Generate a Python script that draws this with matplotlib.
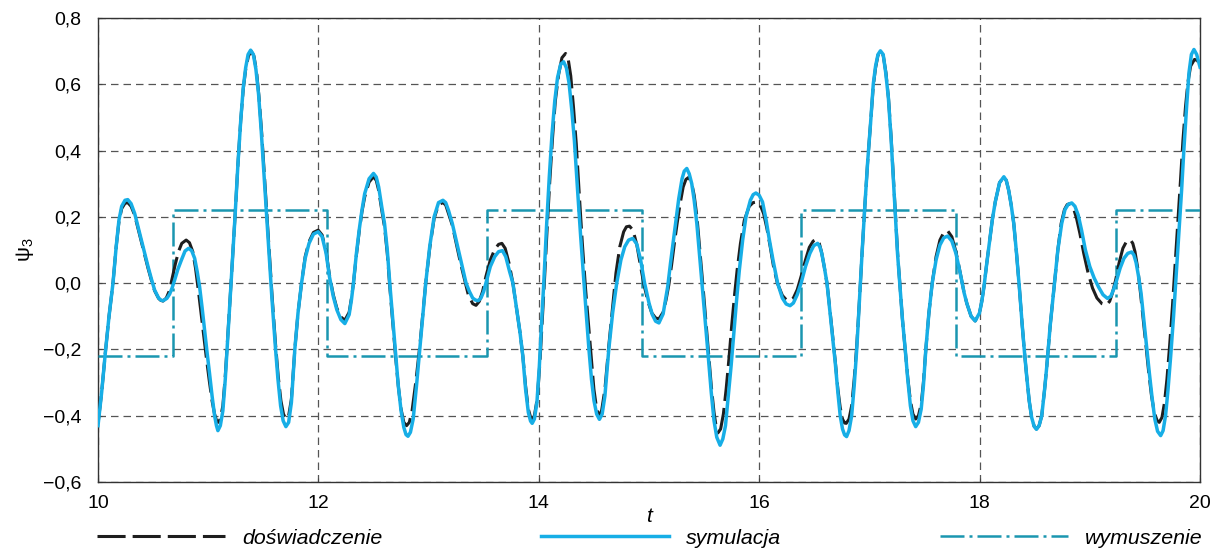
import numpy as np
import matplotlib
matplotlib.use("Agg")
import matplotlib.pyplot as plt
from matplotlib.ticker import FuncFormatter, MultipleLocator

plt.rcParams['font.family'] = ['Liberation Sans', 'DejaVu Sans']
plt.rcParams['mathtext.fontset'] = 'custom'
plt.rcParams['mathtext.rm'] = 'Liberation Sans'
plt.rcParams['mathtext.it'] = 'Liberation Sans:italic'
plt.rcParams['mathtext.default'] = 'regular'

# symulacja (blue), (t, psi3)
sim = [
    (10.00, -0.430), (10.033, -0.33), (10.066, -0.212), (10.10, -0.10), (10.136, 0.0),
    (10.165, 0.11), (10.19, 0.19), (10.215, 0.232), (10.245, 0.250), (10.27, 0.252),
    (10.30, 0.24), (10.333, 0.21), (10.363, 0.17), (10.393, 0.13), (10.424, 0.09),
    (10.454, 0.05), (10.485, 0.012), (10.514, -0.021), (10.55, -0.045), (10.57, -0.051), (10.59, -0.053),
    (10.625, -0.046), (10.65, -0.033), (10.672, -0.015), (10.695, 0.009), (10.725, 0.042),
    (10.756, 0.069), (10.79, 0.097), (10.822, 0.105),
    (10.85, 0.098), (10.877, 0.075), (10.90, 0.035), (10.922, -0.011), (10.945, -0.075),
    (10.967, -0.142), (10.99, -0.21), (11.012, -0.272), (11.035, -0.34), (11.058, -0.40),
    (11.075, -0.43), (11.088, -0.445),
    (11.11, -0.43), (11.133, -0.385), (11.155, -0.29), (11.177, -0.17), (11.20, -0.04),
    (11.22, 0.07), (11.245, 0.21), (11.27, 0.36), (11.295, 0.49), (11.318, 0.59),
    (11.34, 0.65), (11.362, 0.69), (11.385, 0.703),
    (11.41, 0.69), (11.433, 0.645), (11.457, 0.57), (11.481, 0.46), (11.51, 0.31),
    (11.545, 0.13), (11.577, -0.04), (11.609, -0.19), (11.633, -0.29), (11.657, -0.37),
    (11.68, -0.415), (11.705, -0.433),
    (11.73, -0.42), (11.755, -0.36), (11.786, -0.2), (11.815, -0.09), (11.847, 0.0),
    (11.88, 0.075), (11.915, 0.12), (11.955, 0.148), (11.998, 0.155),
    (12.034, 0.14), (12.07, 0.09), (12.10, 0.02), (12.135, -0.04), (12.167, -0.08),
    (12.204, -0.11), (12.24, -0.122),
    (12.279, -0.095), (12.30, -0.05), (12.318, 0.0), (12.345, 0.09), (12.37, 0.16),
    (12.395, 0.22), (12.42, 0.27), (12.46, 0.315), (12.50, 0.331),
    (12.525, 0.32), (12.547, 0.29), (12.575, 0.23), (12.60, 0.18), (12.625, 0.10),
    (12.65, -0.01), (12.675, -0.11), (12.70, -0.21), (12.725, -0.31), (12.75, -0.385),
    (12.775, -0.435), (12.795, -0.457), (12.813, -0.462),
    (12.835, -0.45), (12.86, -0.41), (12.89, -0.31), (12.92, -0.2), (12.947, -0.1),
    (12.974, 0.0), (13.01, 0.11), (13.05, 0.2), (13.09, 0.243), (13.13, 0.250),
    (13.155, 0.243), (13.18, 0.22), (13.215, 0.18), (13.25, 0.13), (13.295, 0.065),
    (13.34, 0.0), (13.37, -0.025), (13.40, -0.045), (13.425, -0.051), (13.45, -0.053),
    (13.475, -0.045), (13.50, -0.025), (13.52, 0.0), (13.56, 0.05), (13.60, 0.08),
    (13.635, 0.095), (13.67, 0.098),
    (13.70, 0.08), (13.735, 0.035), (13.765, 0.0), (13.80, -0.08), (13.83, -0.15),
    (13.855, -0.22), (13.88, -0.32), (13.905, -0.39), (13.925, -0.416), (13.94, -0.423),
    (13.96, -0.41), (13.983, -0.36), (14.005, -0.25), (14.025, -0.12), (14.045, 0.0),
    (14.07, 0.17), (14.095, 0.32), (14.12, 0.45), (14.145, 0.55), (14.17, 0.62),
    (14.198, 0.66), (14.225, 0.668),
    (14.25, 0.65), (14.274, 0.605), (14.30, 0.52), (14.323, 0.43), (14.35, 0.29),
    (14.38, 0.14), (14.41, 0.0), (14.43, -0.09), (14.455, -0.2), (14.478, -0.29),
    (14.501, -0.355), (14.525, -0.395), (14.55, -0.411),
    (14.575, -0.395), (14.60, -0.34), (14.635, -0.2), (14.67, -0.09), (14.707, 0.0),
    (14.745, 0.07), (14.78, 0.11), (14.815, 0.13), (14.853, 0.135),
    (14.889, 0.118), (14.924, 0.07), (14.96, 0.0), (15.0, -0.06), (15.03, -0.095),
    (15.06, -0.115), (15.09, -0.12),
    (15.128, -0.093), (15.15, -0.05), (15.17, -0.01), (15.195, 0.06), (15.22, 0.125),
    (15.245, 0.19), (15.27, 0.255), (15.30, 0.315), (15.32, 0.338), (15.343, 0.346),
    (15.365, 0.33), (15.388, 0.30), (15.41, 0.25), (15.434, 0.18), (15.46, 0.08),
    (15.487, -0.02), (15.515, -0.13), (15.54, -0.23), (15.565, -0.33), (15.59, -0.415),
    (15.615, -0.465), (15.645, -0.489),
    (15.67, -0.47), (15.694, -0.43), (15.72, -0.34), (15.745, -0.25), (15.77, -0.15),
    (15.795, -0.05), (15.82, 0.04), (15.85, 0.13), (15.88, 0.2), (15.92, 0.25),
    (15.945, 0.267), (15.97, 0.272),
    (16.0, 0.265), (16.03, 0.245), (16.063, 0.19), (16.09, 0.135), (16.125, 0.07),
    (16.167, 0.0), (16.21, -0.045), (16.245, -0.063), (16.28, -0.068),
    (16.31, -0.06), (16.345, -0.035), (16.38, 0.0), (16.42, 0.05), (16.46, 0.09),
    (16.495, 0.113), (16.53, 0.12),
    (16.55, 0.11), (16.569, 0.088), (16.59, 0.05), (16.615, 0.0), (16.64, -0.08),
    (16.665, -0.16), (16.69, -0.24), (16.714, -0.33), (16.735, -0.4), (16.756, -0.44),
    (16.775, -0.458), (16.793, -0.463),
    (16.815, -0.445), (16.839, -0.40), (16.862, -0.31), (16.885, -0.2), (16.91, -0.05),
    (16.935, 0.1), (16.96, 0.24), (16.985, 0.37), (17.01, 0.48), (17.035, 0.6),
    (17.056, 0.655), (17.078, 0.69), (17.10, 0.701),
    (17.125, 0.69), (17.148, 0.635), (17.172, 0.56), (17.196, 0.44), (17.225, 0.27),
    (17.255, 0.09), (17.28, -0.02), (17.30, -0.11), (17.325, -0.2), (17.348, -0.29),
    (17.372, -0.37), (17.395, -0.415), (17.42, -0.433),
    (17.445, -0.42), (17.47, -0.38), (17.49, -0.31), (17.512, -0.2), (17.54, -0.09),
    (17.57, 0.0), (17.605, 0.07), (17.64, 0.115), (17.675, 0.137), (17.71, 0.142),
    (17.748, 0.127), (17.785, 0.09), (17.81, 0.052), (17.835, 0.012), (17.86, -0.03),
    (17.885, -0.062), (17.923, -0.1), (17.96, -0.114),
    (17.999, -0.09), (18.02, -0.055), (18.04, -0.01), (18.065, 0.06), (18.09, 0.125),
    (18.115, 0.19), (18.142, 0.245), (18.181, 0.303), (18.22, 0.321),
    (18.242, 0.31), (18.264, 0.28), (18.287, 0.235), (18.31, 0.18), (18.335, 0.09),
    (18.36, -0.01), (18.385, -0.12), (18.405, -0.2), (18.427, -0.28), (18.45, -0.355),
    (18.472, -0.405), (18.495, -0.432), (18.516, -0.441),
    (18.54, -0.43), (18.564, -0.4), (18.59, -0.32), (18.61, -0.25), (18.64, -0.13),
    (18.676, -0.01), (18.71, 0.1), (18.745, 0.18), (18.775, 0.222), (18.805, 0.238),
    (18.836, 0.242),
    (18.865, 0.232), (18.895, 0.205), (18.925, 0.16), (18.96, 0.1), (19.0, 0.05),
    (19.04, 0.015), (19.08, -0.012), (19.12, -0.035), (19.16, -0.046),
    (19.19, -0.04), (19.215, -0.02), (19.24, 0.005), (19.275, 0.045), (19.31, 0.075),
    (19.345, 0.09), (19.38, 0.094),
    (19.40, 0.085), (19.42, 0.062), (19.44, 0.025), (19.465, -0.03), (19.49, -0.11),
    (19.515, -0.19), (19.54, -0.27), (19.565, -0.345), (19.59, -0.41), (19.615, -0.447),
    (19.643, -0.46),
    (19.665, -0.445), (19.688, -0.398), (19.71, -0.32), (19.734, -0.22), (19.76, -0.1),
    (19.785, 0.03), (19.81, 0.16), (19.833, 0.28), (19.855, 0.41), (19.878, 0.53),
    (19.90, 0.635), (19.922, 0.69), (19.945, 0.705), (19.97, 0.69), (20.0, 0.652),
]

# doswiadczenie (black dashed)
exp = [
    (10.00, -0.425), (10.033, -0.33), (10.066, -0.212), (10.10, -0.10), (10.136, 0.0),
    (10.165, 0.11), (10.19, 0.185), (10.215, 0.225), (10.245, 0.241), (10.27, 0.243),
    (10.30, 0.232), (10.333, 0.205), (10.363, 0.165), (10.393, 0.125), (10.424, 0.085),
    (10.454, 0.045), (10.485, 0.008), (10.514, -0.023), (10.55, -0.046), (10.57, -0.052), (10.59, -0.054),
    (10.62, -0.045), (10.645, -0.025), (10.67, 0.01), (10.70, 0.055), (10.73, 0.095),
    (10.76, 0.12), (10.80, 0.130),
    (10.83, 0.122), (10.86, 0.095), (10.885, 0.045), (10.91, -0.02), (10.935, -0.09),
    (10.96, -0.16), (10.985, -0.23), (11.01, -0.295), (11.035, -0.355), (11.058, -0.395),
    (11.075, -0.414), (11.09, -0.42),
    (11.11, -0.41), (11.133, -0.37), (11.155, -0.28), (11.177, -0.165), (11.20, -0.04),
    (11.22, 0.07), (11.245, 0.21), (11.27, 0.36), (11.295, 0.49), (11.318, 0.585),
    (11.34, 0.645), (11.365, 0.685), (11.39, 0.70),
    (11.415, 0.685), (11.438, 0.64), (11.46, 0.565), (11.485, 0.455), (11.515, 0.3),
    (11.55, 0.12), (11.58, -0.04), (11.61, -0.18), (11.635, -0.28), (11.66, -0.355),
    (11.683, -0.395), (11.705, -0.41),
    (11.73, -0.40), (11.755, -0.35), (11.786, -0.2), (11.815, -0.09), (11.847, 0.0),
    (11.88, 0.08), (11.915, 0.125), (11.955, 0.153), (11.998, 0.16),
    (12.034, 0.145), (12.07, 0.095), (12.10, 0.025), (12.135, -0.035), (12.167, -0.075),
    (12.204, -0.102), (12.24, -0.112),
    (12.279, -0.088), (12.30, -0.045), (12.318, 0.0), (12.345, 0.085), (12.37, 0.155),
    (12.395, 0.215), (12.42, 0.26), (12.46, 0.305), (12.50, 0.321),
    (12.525, 0.31), (12.547, 0.28), (12.575, 0.22), (12.60, 0.17), (12.625, 0.09),
    (12.65, -0.02), (12.675, -0.12), (12.70, -0.22), (12.725, -0.31), (12.75, -0.38),
    (12.775, -0.42), (12.80, -0.43),
    (12.825, -0.42), (12.85, -0.385), (12.885, -0.295), (12.92, -0.19), (12.947, -0.095),
    (12.974, 0.0), (13.01, 0.105), (13.05, 0.195), (13.09, 0.237), (13.13, 0.243),
    (13.155, 0.236), (13.215, 0.175), (13.29, 0.06), (13.36, -0.035), (13.40, -0.062),
    (13.43, -0.067),
    (13.46, -0.055), (13.49, -0.025), (13.52, 0.02), (13.56, 0.07), (13.60, 0.102),
    (13.635, 0.117), (13.665, 0.12),
    (13.695, 0.105), (13.73, 0.06), (13.765, 0.0), (13.80, -0.08), (13.83, -0.15),
    (13.855, -0.22), (13.88, -0.31), (13.905, -0.38), (13.925, -0.404), (13.94, -0.41),
    (13.96, -0.40), (13.985, -0.35), (14.01, -0.24), (14.03, -0.12), (14.05, 0.0),
    (14.075, 0.16), (14.10, 0.31), (14.125, 0.44), (14.15, 0.55), (14.18, 0.63),
    (14.21, 0.68), (14.243, 0.693),
    (14.265, 0.68), (14.29, 0.625), (14.315, 0.53), (14.34, 0.42), (14.365, 0.28),
    (14.395, 0.12), (14.425, -0.02), (14.45, -0.12), (14.475, -0.22), (14.50, -0.32),
    (14.525, -0.38), (14.545, -0.40),
    (14.57, -0.385), (14.60, -0.32), (14.635, -0.19), (14.67, -0.07), (14.70, 0.03),
    (14.735, 0.11), (14.77, 0.155), (14.795, 0.17), (14.823, 0.172),
    (14.855, 0.16), (14.89, 0.115), (14.924, 0.05), (14.955, -0.005), (14.99, -0.055),
    (15.025, -0.09), (15.06, -0.105), (15.09, -0.108),
    (15.128, -0.088), (15.155, -0.05), (15.18, -0.005), (15.205, 0.055), (15.23, 0.12),
    (15.255, 0.18), (15.28, 0.235), (15.31, 0.29), (15.335, 0.313), (15.36, 0.319),
    (15.385, 0.305), (15.41, 0.265), (15.435, 0.2), (15.46, 0.105), (15.49, -0.01),
    (15.515, -0.11), (15.54, -0.21), (15.565, -0.31), (15.59, -0.39), (15.61, -0.435),
    (15.625, -0.452),
    (15.65, -0.44), (15.675, -0.395), (15.70, -0.32), (15.725, -0.23), (15.75, -0.13),
    (15.775, -0.04), (15.80, 0.04), (15.83, 0.12), (15.865, 0.19), (15.91, 0.232),
    (15.945, 0.243), (15.98, 0.245),
    (16.01, 0.235), (16.04, 0.21), (16.07, 0.165), (16.10, 0.11), (16.13, 0.05),
    (16.165, 0.0), (16.21, -0.037), (16.245, -0.05), (16.28, -0.052),
    (16.31, -0.045), (16.345, -0.02), (16.38, 0.02), (16.42, 0.07), (16.455, 0.108),
    (16.49, 0.127), (16.52, 0.132),
    (16.545, 0.12), (16.565, 0.095), (16.59, 0.05), (16.615, 0.0), (16.64, -0.075),
    (16.665, -0.155), (16.69, -0.235), (16.714, -0.32), (16.735, -0.375), (16.756, -0.41),
    (16.775, -0.422), (16.79, -0.423),
    (16.815, -0.41), (16.839, -0.37), (16.862, -0.29), (16.885, -0.19), (16.91, -0.05),
    (16.935, 0.1), (16.96, 0.24), (16.985, 0.37), (17.01, 0.48), (17.035, 0.595),
    (17.056, 0.65), (17.078, 0.688), (17.10, 0.70),
    (17.125, 0.688), (17.15, 0.635), (17.174, 0.555), (17.198, 0.435), (17.227, 0.265),
    (17.257, 0.085), (17.28, -0.02), (17.30, -0.11), (17.325, -0.2), (17.348, -0.285),
    (17.372, -0.355), (17.395, -0.395), (17.42, -0.41),
    (17.445, -0.40), (17.47, -0.365), (17.49, -0.3), (17.512, -0.2), (17.54, -0.09),
    (17.57, 0.0), (17.605, 0.08), (17.64, 0.13), (17.675, 0.153), (17.71, 0.158),
    (17.748, 0.14), (17.785, 0.095), (17.81, 0.055), (17.835, 0.012), (17.86, -0.03),
    (17.885, -0.062), (17.923, -0.1), (17.96, -0.114),
    (17.999, -0.09), (18.02, -0.055), (18.04, -0.01), (18.065, 0.06), (18.09, 0.125),
    (18.115, 0.19), (18.142, 0.245), (18.181, 0.303), (18.22, 0.321),
    (18.242, 0.31), (18.264, 0.28), (18.287, 0.235), (18.31, 0.18), (18.335, 0.09),
    (18.36, -0.01), (18.385, -0.12), (18.405, -0.2), (18.427, -0.28), (18.45, -0.355),
    (18.472, -0.405), (18.495, -0.432), (18.516, -0.44),
    (18.54, -0.43), (18.564, -0.4), (18.59, -0.32), (18.61, -0.25), (18.64, -0.13),
    (18.676, -0.01), (18.71, 0.1), (18.74, 0.18), (18.77, 0.222), (18.795, 0.237),
    (18.82, 0.24),
    (18.85, 0.228), (18.88, 0.195), (18.91, 0.15), (18.945, 0.09), (18.985, 0.03),
    (19.025, -0.015), (19.065, -0.045), (19.11, -0.062), (19.15, -0.066),
    (19.18, -0.055), (19.205, -0.03), (19.235, 0.01), (19.265, 0.06), (19.30, 0.105),
    (19.335, 0.127), (19.37, 0.13),
    (19.39, 0.12), (19.41, 0.095), (19.435, 0.045), (19.46, -0.03), (19.485, -0.11),
    (19.51, -0.19), (19.535, -0.27), (19.56, -0.34), (19.585, -0.39), (19.61, -0.414),
    (19.63, -0.42),
    (19.655, -0.405), (19.678, -0.36), (19.70, -0.29), (19.724, -0.19), (19.75, -0.07),
    (19.775, 0.06), (19.80, 0.19), (19.823, 0.31), (19.845, 0.43), (19.868, 0.53),
    (19.89, 0.605), (19.915, 0.655), (19.95, 0.675), (19.975, 0.672), (20.0, 0.66),
]

# wymuszenie (square wave): switch times and levels
t_exc = [10.0, 10.68, 12.08, 13.53, 14.94, 16.38, 17.79, 19.24, 20.0]
v_exc = [-0.22, 0.22, -0.22, 0.22, -0.22, 0.22, -0.22, 0.22, 0.22]

t_sim, v_sim = zip(*sim)
t_exp, v_exp = zip(*exp)

c_sim = '#17aee6'
c_exc = '#1a96b0'
c_exp = '#1e1e1e'

fig = plt.figure(figsize=(12.21, 5.49), dpi=100)
ax = fig.add_axes([98/1221, 1-482/549, 1102/1221, 464/549])

ax.step(t_exc, v_exc, where='post', color=c_exc, lw=1.8, dashes=(9.6, 2.0, 1.2, 2.0),
        label='wymuszenie', zorder=3)
ax.plot(t_exp, v_exp, color=c_exp, lw=2.2, dashes=(9.2, 2.3), label='doświadczenie', zorder=4)
ax.plot(t_sim, v_sim, color=c_sim, lw=2.5, label='symulacja', zorder=5)

ax.set_xlim(10, 20)
ax.set_ylim(-0.6, 0.8)
ax.xaxis.set_major_locator(MultipleLocator(2))
ax.yaxis.set_major_locator(MultipleLocator(0.2))
ax.yaxis.set_major_formatter(FuncFormatter(lambda v, p: f"{v:.1f}".replace('.', ',').replace('-', '\u2212')))
ax.xaxis.set_major_formatter(FuncFormatter(lambda v, p: f"{v:.0f}"))
ax.grid(True, color='#555555', lw=0.9, dashes=(6, 4))
ax.tick_params(direction='in', length=3, width=0.8, labelsize=14, color='#444444')
ax.tick_params(axis='y', pad=12)
ax.tick_params(axis='x', pad=9)
for s in ax.spines.values():
    s.set_color('#333333')
    s.set_linewidth(1.0)

ax.set_ylabel(r'$\psi_3$', fontsize=15, labelpad=5)
ax.set_xlabel('t', fontsize=15, style='italic', labelpad=-3)

h, l = ax.get_legend_handles_labels()
order = [1, 2, 0]
fig.legend([h[i] for i in order], [l[i] for i in order], ncol=3, frameon=False,
           loc='center left', bbox_to_anchor=(97/1221, 1-538/549),
           prop={'size': 15.4, 'style': 'italic'},
           handlelength=6.0, handletextpad=0.8, columnspacing=7.4,
           borderpad=0, borderaxespad=0)

fig.savefig('out.png', dpi=100)
